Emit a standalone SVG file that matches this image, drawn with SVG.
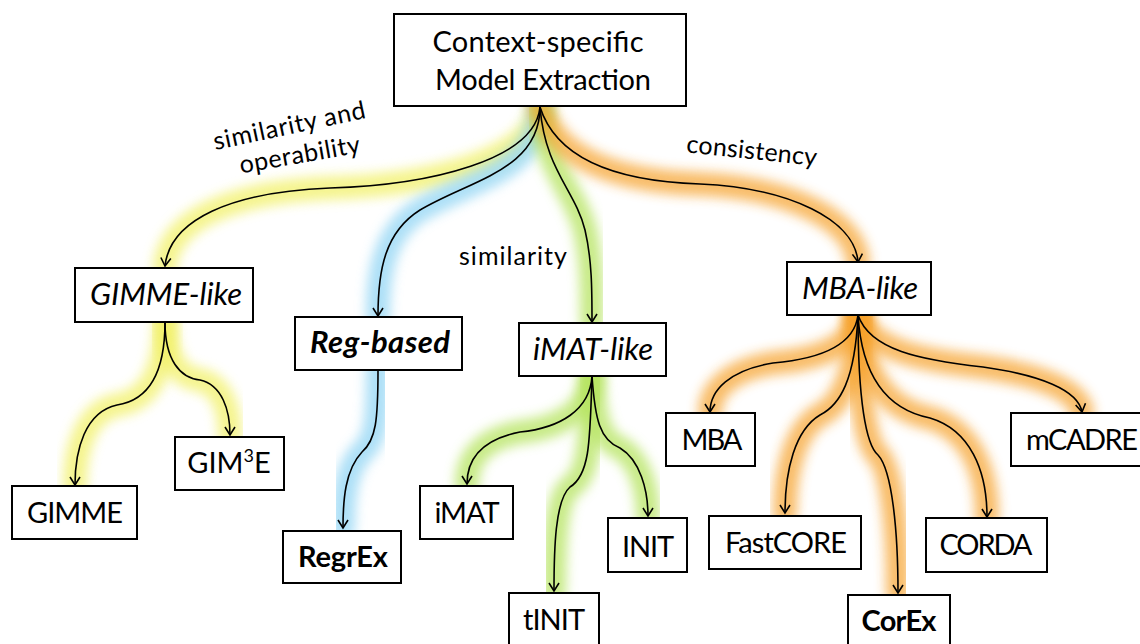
<svg xmlns="http://www.w3.org/2000/svg" width="1140" height="644" viewBox="0 0 1140 644">
<style>
.box{fill:#fff;stroke:#000;stroke-width:2}
.t{font-family:Lato,"Open Sans","Liberation Sans",sans-serif;font-size:29px;fill:#000;text-anchor:middle}
.it{font-style:italic;font-size:31px}
.b{font-weight:bold}
.lbl{font-family:Lato,"Open Sans","Liberation Sans",sans-serif;font-size:25px;fill:#000;text-anchor:middle}
.e{fill:none;stroke:#000;stroke-width:1.6;marker-end:url(#ah)}
.g{fill:none;stroke-width:24;stroke-linecap:round;filter:url(#blur)}
.gy{stroke:#f1f060;opacity:.7}
.gb{stroke:#92d5f4;opacity:.75}
.gg{stroke:#b6e460;opacity:.75}
.go{stroke:#f6a12a;opacity:.7}
</style>
<defs>
<marker id="ah" markerWidth="14" markerHeight="14" refX="9" refY="6" orient="auto" markerUnits="userSpaceOnUse">
<path d="M1,1 L9,6 L1,11" fill="none" stroke="#000" stroke-width="1.6"/>
</marker>
<filter id="blur" x="-20%" y="-20%" width="140%" height="140%"><feGaussianBlur stdDeviation="6"/></filter>
</defs>
<rect width="1140" height="644" fill="#fff"/>
<g id="glows">
<path class="g gy" d="M540,107 C535,160 430,185 330,188 C230,192 170,220 165,266"/>
<path class="g gb" d="M540,107 C540,170 470,180 420,210 C385,232 378,270 378,316"/>
<path class="g gg" d="M540,107 C545,170 575,190 585,230 C592,260 592,290 592,322"/>
<path class="g go" d="M540,107 C560,170 640,182 700,184 C790,188 855,220 858,262"/>
<path class="g gy" d="M165,322 C165,370 150,400 117,405 C85,412 75,450 75,485"/>
<path class="g gy" d="M165,322 C165,360 180,378 200,380 C222,385 230,410 230,435"/>
<path class="g gb" d="M378,370 C378,420 376,440 362,452 C345,470 343,500 343,528"/>
<path class="g gg" d="M592,376 C590,410 560,428 520,432 C480,440 467,460 467,484"/>
<path class="g gg" d="M592,376 C590,440 590,475 570,487 C555,500 554,550 554,591"/>
<path class="g gg" d="M592,376 C595,420 600,440 620,448 C640,460 648,490 648,516"/>
<path class="g go" d="M858,315 C855,340 830,358 773,363 C730,370 710,390 710,412"/>
<path class="g go" d="M858,315 C855,380 840,405 820,415 C795,430 785,470 785,513"/>
<path class="g go" d="M858,315 C858,400 866,445 878,455 C892,470 898,530 898,593"/>
<path class="g go" d="M858,315 C862,380 890,410 930,418 C970,430 987,470 987,517"/>
<path class="g go" d="M858,315 C870,350 920,360 983,367 C1040,375 1078,390 1082,412"/>
</g>
<g id="connectors">
<path class="e" d="M540,107 C535,160 430,185 330,188 C230,192 170,220 165,266"/>
<path class="e" d="M540,107 C540,170 470,180 420,210 C385,232 378,270 378,316"/>
<path class="e" d="M540,107 C545,170 575,190 585,230 C592,260 592,290 592,322"/>
<path class="e" d="M540,107 C560,170 640,182 700,184 C790,188 855,220 858,262"/>
<path class="e" d="M165,322 C165,370 150,400 117,405 C85,412 75,450 75,485"/>
<path class="e" d="M165,322 C165,360 180,378 200,380 C222,385 230,410 230,435"/>
<path class="e" d="M378,370 C378,420 376,440 362,452 C345,470 343,500 343,528"/>
<path class="e" d="M592,376 C590,410 560,428 520,432 C480,440 467,460 467,484"/>
<path class="e" d="M592,376 C590,440 590,475 570,487 C555,500 554,550 554,591"/>
<path class="e" d="M592,376 C595,420 600,440 620,448 C640,460 648,490 648,516"/>
<path class="e" d="M858,315 C855,340 830,358 773,363 C730,370 710,390 710,412"/>
<path class="e" d="M858,315 C855,380 840,405 820,415 C795,430 785,470 785,513"/>
<path class="e" d="M858,315 C858,400 866,445 878,455 C892,470 898,530 898,593"/>
<path class="e" d="M858,315 C862,380 890,410 930,418 C970,430 987,470 987,517"/>
<path class="e" d="M858,315 C870,350 920,360 983,367 C1040,375 1078,390 1082,412"/>
<text class="lbl" transform="translate(291,134) rotate(-12)" textLength="155">similarity and</text>
<text class="lbl" transform="translate(301,163) rotate(-10)" textLength="122">operability</text>
<text class="lbl" x="513" y="265" textLength="108">similarity</text>
<text class="lbl" transform="translate(751,159) rotate(6)" textLength="131">consistency</text>
</g>
<g id="root">
<rect class="box" x="394" y="14" width="292" height="92"/>
<text class="t" x="538" y="52" textLength="211">Context-specific</text>
<text class="t" x="543" y="90" textLength="216">Model Extraction</text>
</g>
<g id="gimme-like">
<rect class="box" x="75" y="268" width="178" height="54"/>
<text class="t it" x="166" y="305" textLength="152">GIMME-like</text>
</g>
<g id="gimme">
<rect class="box" x="12" y="486" width="125" height="53"/>
<text class="t" x="75" y="523" textLength="96">GIMME</text>
</g>
<g id="gim3e">
<rect class="box" x="175" y="437" width="109" height="53"/>
<text class="t" x="229" y="473">GIM<tspan font-size="18" dy="-11">3</tspan><tspan dy="11">E</tspan></text>
</g>
<g id="reg-based">
<rect class="box" x="295" y="317" width="167" height="53"/>
<text class="t it b" x="380" y="353" textLength="140">Reg-based</text>
</g>
<g id="regrex">
<rect class="box" x="283" y="531" width="118" height="52"/>
<text class="t b" x="343" y="567" textLength="90">RegrEx</text>
</g>
<g id="imat-like">
<rect class="box" x="519" y="323" width="147" height="53"/>
<text class="t it" x="593" y="360" textLength="120">iMAT-like</text>
</g>
<g id="imat">
<rect class="box" x="420" y="486" width="93" height="53"/>
<text class="t" x="467" y="523" textLength="65">iMAT</text>
</g>
<g id="init">
<rect class="box" x="608" y="518" width="79" height="54"/>
<text class="t" x="648" y="557" textLength="52">INIT</text>
</g>
<g id="tinit">
<rect class="box" x="509" y="593" width="90" height="60"/>
<text class="t" x="554" y="630" textLength="62">tINIT</text>
</g>
<g id="mba-like">
<rect class="box" x="787" y="262" width="144" height="53"/>
<text class="t it" x="860" y="299" textLength="116">MBA-like</text>
</g>
<g id="mba">
<rect class="box" x="666" y="413" width="89" height="53"/>
<text class="t" x="712" y="450" textLength="61">MBA</text>
</g>
<g id="mcadre">
<rect class="box" x="1011" y="413" width="140" height="53"/>
<text class="t" x="1082" y="450" textLength="112">mCADRE</text>
</g>
<g id="fastcore">
<rect class="box" x="709" y="516" width="152" height="53"/>
<text class="t" x="786" y="553" textLength="122">FastCORE</text>
</g>
<g id="corda">
<rect class="box" x="926" y="518" width="121" height="54"/>
<text class="t" x="986" y="555" textLength="93">CORDA</text>
</g>
<g id="corex">
<rect class="box" x="848" y="595" width="102" height="60"/>
<text class="t b" x="899" y="631" textLength="75">CorEx</text>
</g>
</svg>
